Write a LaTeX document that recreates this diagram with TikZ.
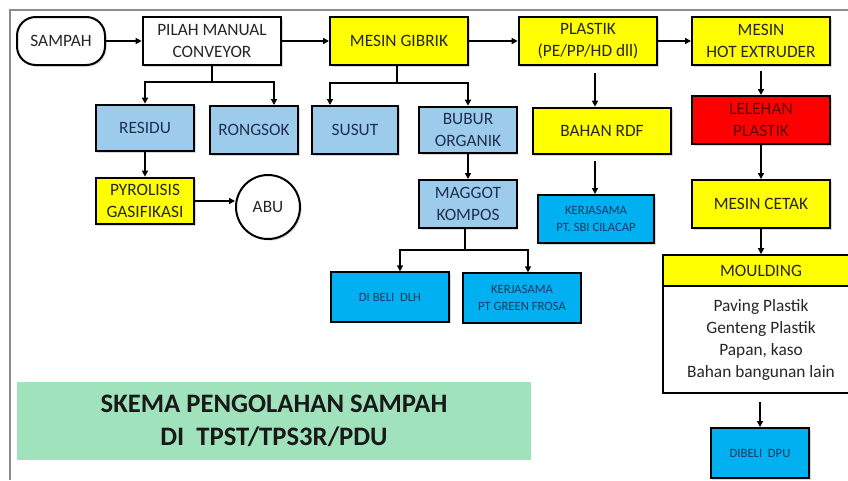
\documentclass[tikz,border=0pt]{standalone}
\usepackage{fontspec}
\setmainfont{Carlito}
\usepackage{xcolor}
\usetikzlibrary{arrows.meta,shadows}
\definecolor{ylw}{HTML}{FFFF00}
\definecolor{lblue}{HTML}{9DCBEB}
\definecolor{sblue}{HTML}{00B0F0}
\definecolor{hotred}{HTML}{FF0000}
\definecolor{mint}{HTML}{A0E2BC}
\definecolor{navy}{HTML}{1F3864}
\definecolor{slate}{HTML}{1F3050}
\definecolor{darkred}{HTML}{5A0000}
\definecolor{framegray}{HTML}{8C8C8C}
\tikzset{
  box/.style={draw=black, line width=1.5pt, align=center, inner sep=1pt,
    font=\fontsize{13}{16.5}\selectfont, text=black!85,
    drop shadow={shadow xshift=1.2pt, shadow yshift=-1.2pt, opacity=.3}},
  white/.style={box, fill=white},
  yellow/.style={box, fill=ylw},
  pale/.style={box, fill=lblue, text=slate},
  sky/.style={box, fill=sblue, text=navy, font=\fontsize{9.5}{12.5}\selectfont},
  hot/.style={box, fill=hotred, text=darkred},
  term/.style={white, rounded corners=14pt},
  wd/.style={minimum width=#1pt},
  ht/.style={minimum height=#1pt},
  arr/.style={draw=black, line width=1.1pt, -{Triangle[length=4.5pt,width=4.5pt]}},
  seg/.style={draw=black, line width=1.1pt},
  frame/.style={draw=framegray, line width=0.8pt},
}
\begin{document}
\begin{tikzpicture}[x=0.75pt,y=-0.75pt]
  \useasboundingbox (0,0) rectangle (848,480);
  \draw[frame] (10,480) |- (848,10);

  % top row
  \node[term,wd=66,ht=36] (sampah) at (61,41) {SAMPAH};
  \node[white,wd=104,ht=36] (pilah) at (212,41) {PILAH MANUAL\\CONVEYOR};
  \node[yellow,wd=103.5,ht=36] (gibrik) at (399,41) {MESIN GIBRIK};
  \node[yellow,wd=104,ht=36] (plastik) at (588,41) {PLASTIK\\(PE/PP/HD dll)};
  \node[yellow,wd=103.5,ht=36] (extruder) at (761,41) {MESIN\\HOT EXTRUDER};

  % second row
  \node[pale,wd=74,ht=35] (residu) at (145,128) {RESIDU};
  \node[pale,wd=66,ht=36] (rongsok) at (254,130) {RONGSOK};
  \node[pale,wd=65,ht=36] (susut) at (355,130) {SUSUT};
  \node[pale,wd=73,ht=35] (bubur) at (468,130) {BUBUR\\ORGANIK};
  \node[yellow,wd=104,ht=35] (rdf) at (602,131) {BAHAN RDF};
  \node[hot,wd=103.5,ht=36] (lelehan) at (761,120) {LELEHAN\\PLASTIK};

  % third row
  \node[yellow,wd=74,ht=35] (pyro) at (145,201) {PYROLISIS\\GASIFIKASI};
  \node[white,circle,minimum size=48pt] (abu) at (268,207) {ABU};
  \node[pale,wd=73,ht=36] (maggot) at (468,204) {MAGGOT\\KOMPOS};
  \node[sky,wd=87,ht=36] (sbi) at (596,219) {KERJASAMA\\PT. SBI CILACAP};
  \node[yellow,wd=103.5,ht=36] (cetak) at (761,204) {MESIN CETAK};

  % lower part
  \node[sky,wd=88.5,ht=37] (dlh) at (390,297) {DI BELI\ \ DLH};
  \node[sky,wd=88,ht=37] (frosa) at (522,298) {KERJASAMA\\PT GREEN\ FROSA};
  \node[white,wd=147,ht=80,font=\fontsize{13}{16.5}\selectfont] (mbody) at (761,339.5)
    {Paving Plastik\\Genteng Plastik\\Papan, kaso\\Bahan bangunan lain};
  \node[yellow,wd=147,ht=23] (mhead) at (761,270.5) {MOULDING};
  \node[sky,wd=74,ht=37.5] (dpu) at (760,453) {DIBELI\ \ DPU};

  \node[fill=mint, minimum width=386pt, minimum height=58pt, align=center,
    font=\bfseries\fontsize{20}{25}\selectfont, text=black!90] (title) at (274,421)
    {SKEMA PENGOLAHAN SAMPAH\\DI\ \ TPST/TPS3R/PDU};

  % main flow
  \draw[arr] (sampah) -- (pilah);
  \draw[arr] (pilah) -- (gibrik);
  \draw[arr] (gibrik) -- (plastik);
  \draw[arr] (plastik) -- (extruder);

  % branches of pilah
  \coordinate (pj) at (212,82);
  \coordinate (pr) at (274,82);
  \draw[seg] (pilah.south) -- (pj);
  \draw[arr] (pj) -| (residu.north);
  \draw[arr] (pj) -- (pr) -- (pr |- rongsok.north);
  \draw[arr] (residu) -- (pyro);
  \draw[arr] (pyro.east) -- (pyro.east -| abu.west);

  % branches of gibrik
  \coordinate (gj) at (397,83);
  \coordinate (gl) at (330,83);
  \draw[seg] (gibrik.south -| gj) -- (gj);
  \draw[arr] (gj) -- (gl) -- (gl |- susut.north);
  \draw[arr] (gj) -| (bubur.north);
  \draw[arr] (bubur) -- (maggot);

  % branches of maggot
  \coordinate (mj) at (465,250);
  \coordinate (ml) at (400,250);
  \coordinate (mr) at (528,250);
  \draw[seg] (maggot.south -| mj) -- (mj);
  \draw[arr] (mj) -- (ml) -- (ml |- dlh.north);
  \draw[arr] (mj) -- (mr) -- (mr |- frosa.north);

  % plastic line
  \coordinate (pk) at (595,73);
  \draw[arr] (pk) -- (pk |- rdf.north);
  \coordinate (rk) at (595,161);
  \draw[arr] (rk) -- (rk |- sbi.north);

  % extruder line
  \draw[arr,shorten <=4pt] (extruder) -- (lelehan);
  \draw[arr] (lelehan) -- (cetak);
  \draw[arr] (cetak) -- (mhead);
  \draw[arr,shorten <=6pt] (mbody.south -| dpu) -- (dpu);
\end{tikzpicture}
\end{document}
